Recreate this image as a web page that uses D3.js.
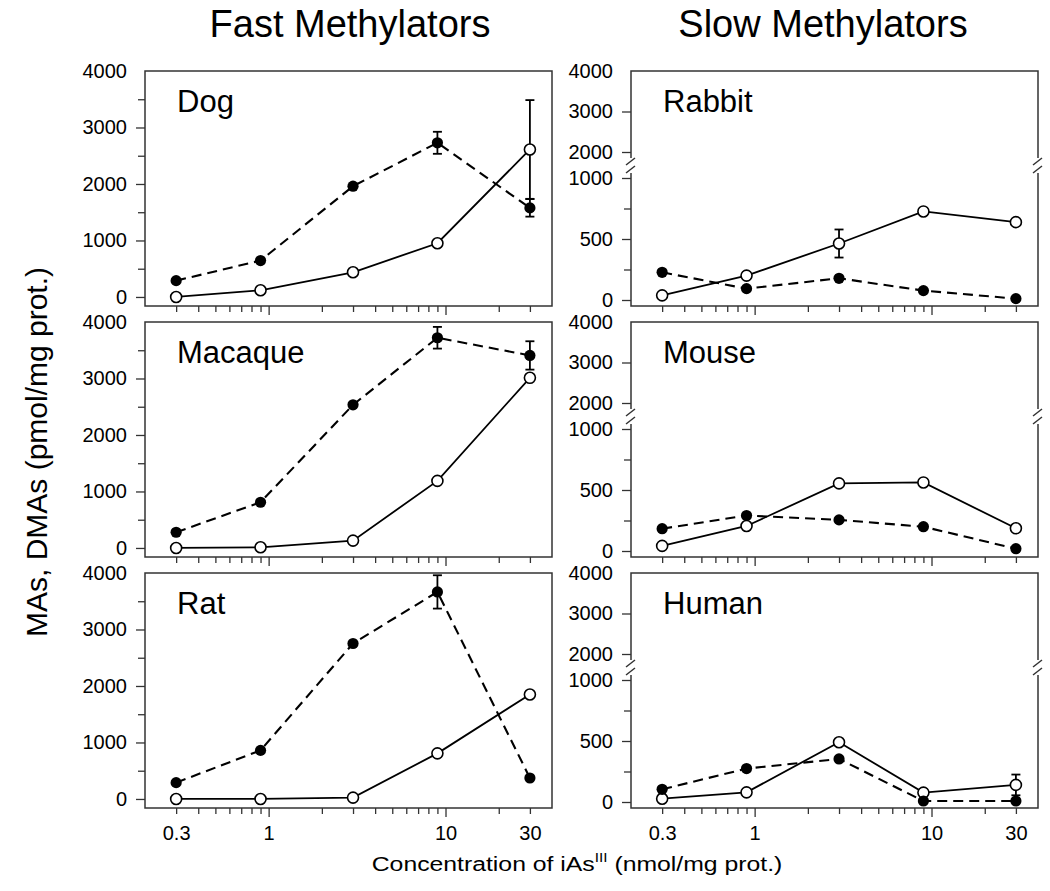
<!DOCTYPE html>
<html>
<head>
<meta charset="utf-8">
<script src="https://cdn.jsdelivr.net/npm/d3@7"></script>
<style>
  html, body { margin: 0; padding: 0; background: #fff; }
  svg { display: block; font-family: "Liberation Sans", Arial, sans-serif; }
</style>
</head>
<body>
<svg id="chart" width="1050" height="891"></svg>
<script>
// ---------------- DATA ----------------
const concentrations = [0.3, 0.9, 3, 9, 30];
const xTickLabelValues = [0.3, 1, 10, 30];
const xMajorTicks = [1, 10];
const xMinorTicks = [0.3, 0.4, 0.5, 0.6, 0.7, 0.8, 0.9, 2, 3, 4, 5, 6, 7, 8, 9, 20, 30];

const columnTitles = ["Fast Methylators", "Slow Methylators"];
const speciesFast = ["Dog", "Macaque", "Rat"];
const speciesSlow = ["Rabbit", "Mouse", "Human"];

// filled circles / dashed line, open circles / solid line
const dogFilled      = [289, 644, 1961, 2729, 1577];
const dogFilledErr   = [0, 0, 0, 195, 155];
const dogOpen        = [0, 118, 437, 951, 2611];
const dogOpenErr     = [0, 0, 0, 0, 874];

const macaqueFilled    = [278, 809, 2534, 3721, 3408];
const macaqueFilledErr = [0, 0, 0, 192, 251];
const macaqueOpen      = [0, 12, 130, 1187, 3012];
const macaqueOpenErr   = [0, 0, 0, 0, 0];

const ratFilled    = [289, 860, 2752, 3665, 371];
const ratFilledErr = [0, 0, 0, 295, 0];
const ratOpen      = [0, 0, 24, 807, 1850];
const ratOpenErr   = [0, 0, 0, 0, 0];

const rabbitFilled    = [227, 93, 178, 77, 11];
const rabbitFilledErr = [0, 0, 0, 0, 0];
const rabbitOpen      = [38, 200, 463, 726, 638];
const rabbitOpenErr   = [0, 0, 115, 0, 0];

const mouseFilled    = [183, 291, 255, 199, 19];
const mouseFilledErr = [0, 0, 0, 0, 0];
const mouseOpen      = [42, 205, 554, 562, 186];
const mouseOpenErr   = [0, 0, 0, 0, 0];

const humanFilled    = [104, 274, 353, 8, 8];
const humanFilledErr = [0, 0, 0, 0, 0];
const humanOpen      = [27, 79, 490, 77, 140];
const humanOpenErr   = [0, 0, 0, 0, 85];

const leftYTicks = [0, 1000, 2000, 3000, 4000];
const leftYMinor = [500, 1500, 2500, 3500];
const rightLowerTicks = [0, 500, 1000];
const rightLowerMinor = [250, 750];
const rightUpperTicks = [2000, 3000, 4000];

const yAxisTitle = "MAs, DMAs (pmol/mg prot.)";
const xAxisTitleA = "Concentration of iAs";
const xAxisTitleSup = "III";
const xAxisTitleB = " (nmol/mg prot.)";

const panels = [
  {name: speciesFast[0], col: 0, row: 0, filled: dogFilled, filledErr: dogFilledErr, open: dogOpen, openErr: dogOpenErr},
  {name: speciesFast[1], col: 0, row: 1, filled: macaqueFilled, filledErr: macaqueFilledErr, open: macaqueOpen, openErr: macaqueOpenErr},
  {name: speciesFast[2], col: 0, row: 2, filled: ratFilled, filledErr: ratFilledErr, open: ratOpen, openErr: ratOpenErr},
  {name: speciesSlow[0], col: 1, row: 0, filled: rabbitFilled, filledErr: rabbitFilledErr, open: rabbitOpen, openErr: rabbitOpenErr},
  {name: speciesSlow[1], col: 1, row: 1, filled: mouseFilled, filledErr: mouseFilledErr, open: mouseOpen, openErr: mouseOpenErr},
  {name: speciesSlow[2], col: 1, row: 2, filled: humanFilled, filledErr: humanFilledErr, open: humanOpen, openErr: humanOpenErr},
];

// ---------------- LAYOUT ----------------
const svg = d3.select("#chart");
const colX = [145, 631];
const panelW = 407;
const rowY = [71, 322, 573];
const panelH = 235;
const frameColor = "#333";
const tickFont = 20;

// Column titles
svg.selectAll("text.coltitle").data(columnTitles).join("text")
  .attr("class", "coltitle")
  .attr("x", (d, i) => [350, 823][i])
  .attr("y", 37)
  .attr("text-anchor", "middle")
  .attr("font-size", 38)
  .text(d => d);

// Y axis title
svg.append("text")
  .attr("transform", "translate(47,452) rotate(-90)")
  .attr("text-anchor", "middle")
  .attr("font-size", 30)
  .text(yAxisTitle);

// X axis title
const xt = svg.append("text")
  .attr("transform", "translate(577,871) scale(1.18,1)")
  .attr("text-anchor", "middle")
  .attr("font-size", 21);
xt.append("tspan").text(xAxisTitleA);
xt.append("tspan").attr("font-size", 13).attr("dy", -9).text(xAxisTitleSup);
xt.append("tspan").attr("dy", 9).text(xAxisTitleB);

function styleAxis(g) {
  g.select(".domain").remove();
  g.selectAll(".tick line").attr("stroke", frameColor).attr("stroke-width", 1.3);
  g.selectAll(".tick text").attr("font-size", tickFont).attr("fill", "#000")
    .attr("font-family", "Liberation Sans, Arial, sans-serif");
}

panels.forEach(p => {
  const x0 = colX[p.col], y0 = rowY[p.row];
  const g = svg.append("g");
  const x = d3.scaleLog().domain([0.2, 40]).range([x0, x0 + panelW]);

  let yOf;
  if (p.col === 0) {
    const y = d3.scaleLinear().domain([-160, 4000]).range([y0 + panelH, y0]);
    yOf = v => y(v);
    g.append("rect").attr("x", x0).attr("y", y0).attr("width", panelW).attr("height", panelH)
      .attr("fill", "none").attr("stroke", frameColor).attr("stroke-width", 1.5);
    const ax = g.append("g").attr("transform", `translate(${x0},0)`)
      .call(d3.axisLeft(y).tickValues(leftYTicks).tickSize(9).tickPadding(9).tickFormat(d3.format("d")));
    styleAxis(ax);
    ax.selectAll(".tick").filter(d => d === 4000).select("line").remove();
    const axm = g.append("g").attr("transform", `translate(${x0},0)`)
      .call(d3.axisLeft(y).tickValues(leftYMinor).tickSize(7).tickFormat(""));
    styleAxis(axm);
  } else {
    const yLow = d3.scaleLinear().domain([0, 1000]).range([y0 + 229, y0 + 107]);
    const yHigh = d3.scaleLinear().domain([2000, 4000]).range([y0 + 81, y0]);
    yOf = v => v <= 1000 ? yLow(v) : yHigh(v);
    const yb = y0 + 94;
    const frame = d3.path();
    frame.moveTo(x0, yb - 7); frame.lineTo(x0, y0); frame.lineTo(x0 + panelW, y0); frame.lineTo(x0 + panelW, yb - 7);
    frame.moveTo(x0, yb + 8); frame.lineTo(x0, y0 + panelH); frame.lineTo(x0 + panelW, y0 + panelH); frame.lineTo(x0 + panelW, yb + 8);
    g.append("path").attr("d", frame.toString()).attr("fill", "none")
      .attr("stroke", frameColor).attr("stroke-width", 1.5);
    [x0, x0 + panelW].forEach(bx => {
      [[-1, -8], [7, 0]].forEach(([a, b]) => {
        g.append("line").attr("x1", bx - 5).attr("y1", yb + a + 1).attr("x2", bx + 4).attr("y2", yb + b + 1)
          .attr("stroke", frameColor).attr("stroke-width", 1.5);
      });
    });
    const axl = g.append("g").attr("transform", `translate(${x0},0)`)
      .call(d3.axisLeft(yLow).tickValues(rightLowerTicks).tickSize(9).tickPadding(9).tickFormat(d3.format("d")));
    styleAxis(axl);
    const axlm = g.append("g").attr("transform", `translate(${x0},0)`)
      .call(d3.axisLeft(yLow).tickValues(rightLowerMinor).tickSize(7).tickFormat(""));
    styleAxis(axlm);
    const axh = g.append("g").attr("transform", `translate(${x0},0)`)
      .call(d3.axisLeft(yHigh).tickValues(rightUpperTicks).tickSize(9).tickPadding(9).tickFormat(d3.format("d")));
    styleAxis(axh);
    axh.selectAll(".tick").filter(d => d === 4000).select("line").remove();
  }

  // x ticks
  const axMinor = g.append("g").attr("transform", `translate(0,${y0 + panelH})`)
    .call(d3.axisBottom(x).tickValues(xMinorTicks).tickSize(6).tickFormat(""));
  styleAxis(axMinor);
  const axMajor = g.append("g").attr("transform", `translate(0,${y0 + panelH})`)
    .call(d3.axisBottom(x).tickValues(xMajorTicks).tickSize(9).tickFormat(""));
  styleAxis(axMajor);
  if (p.row === 2) {
    const axLab = g.append("g").attr("transform", `translate(0,${y0 + panelH})`)
      .call(d3.axisBottom(x).tickValues(xTickLabelValues).tickSize(0).tickPadding(18)
        .tickFormat(d => String(d)));
    styleAxis(axLab);
  }

  // panel label
  g.append("text").attr("x", x0 + 32).attr("y", y0 + 41).attr("font-size", 31).text(p.name);

  const line = d3.line().x((d, i) => x(concentrations[i])).y(d => yOf(d));

  g.append("path").datum(p.open).attr("d", line).attr("fill", "none")
    .attr("stroke", "#000").attr("stroke-width", 1.8);
  g.append("path").datum(p.filled).attr("d", line).attr("fill", "none")
    .attr("stroke", "#000").attr("stroke-width", 2.1).attr("stroke-dasharray", "10,6");

  function errBars(vals, errs) {
    vals.forEach((v, i) => {
      const e = errs[i];
      if (!e) return;
      const cx = x(concentrations[i]);
      const yt = yOf(v + e), ybm = yOf(Math.max(v - e, 0));
      g.append("line").attr("x1", cx).attr("x2", cx).attr("y1", yt).attr("y2", ybm)
        .attr("stroke", "#000").attr("stroke-width", 1.8);
      [yt, ybm].forEach(yy => g.append("line").attr("x1", cx - 4.5).attr("x2", cx + 4.5)
        .attr("y1", yy).attr("y2", yy).attr("stroke", "#000").attr("stroke-width", 1.8));
    });
  }
  errBars(p.filled, p.filledErr);
  errBars(p.open, p.openErr);

  g.selectAll("circle.open").data(p.open).join("circle").attr("class", "open")
    .attr("cx", (d, i) => x(concentrations[i])).attr("cy", d => yOf(d)).attr("r", 5.5)
    .attr("fill", "#fff").attr("stroke", "#000").attr("stroke-width", 1.6);
  g.selectAll("circle.filled").data(p.filled).join("circle").attr("class", "filled")
    .attr("cx", (d, i) => x(concentrations[i])).attr("cy", d => yOf(d)).attr("r", 5.6)
    .attr("fill", "#000");
});
</script>
</body>
</html>
